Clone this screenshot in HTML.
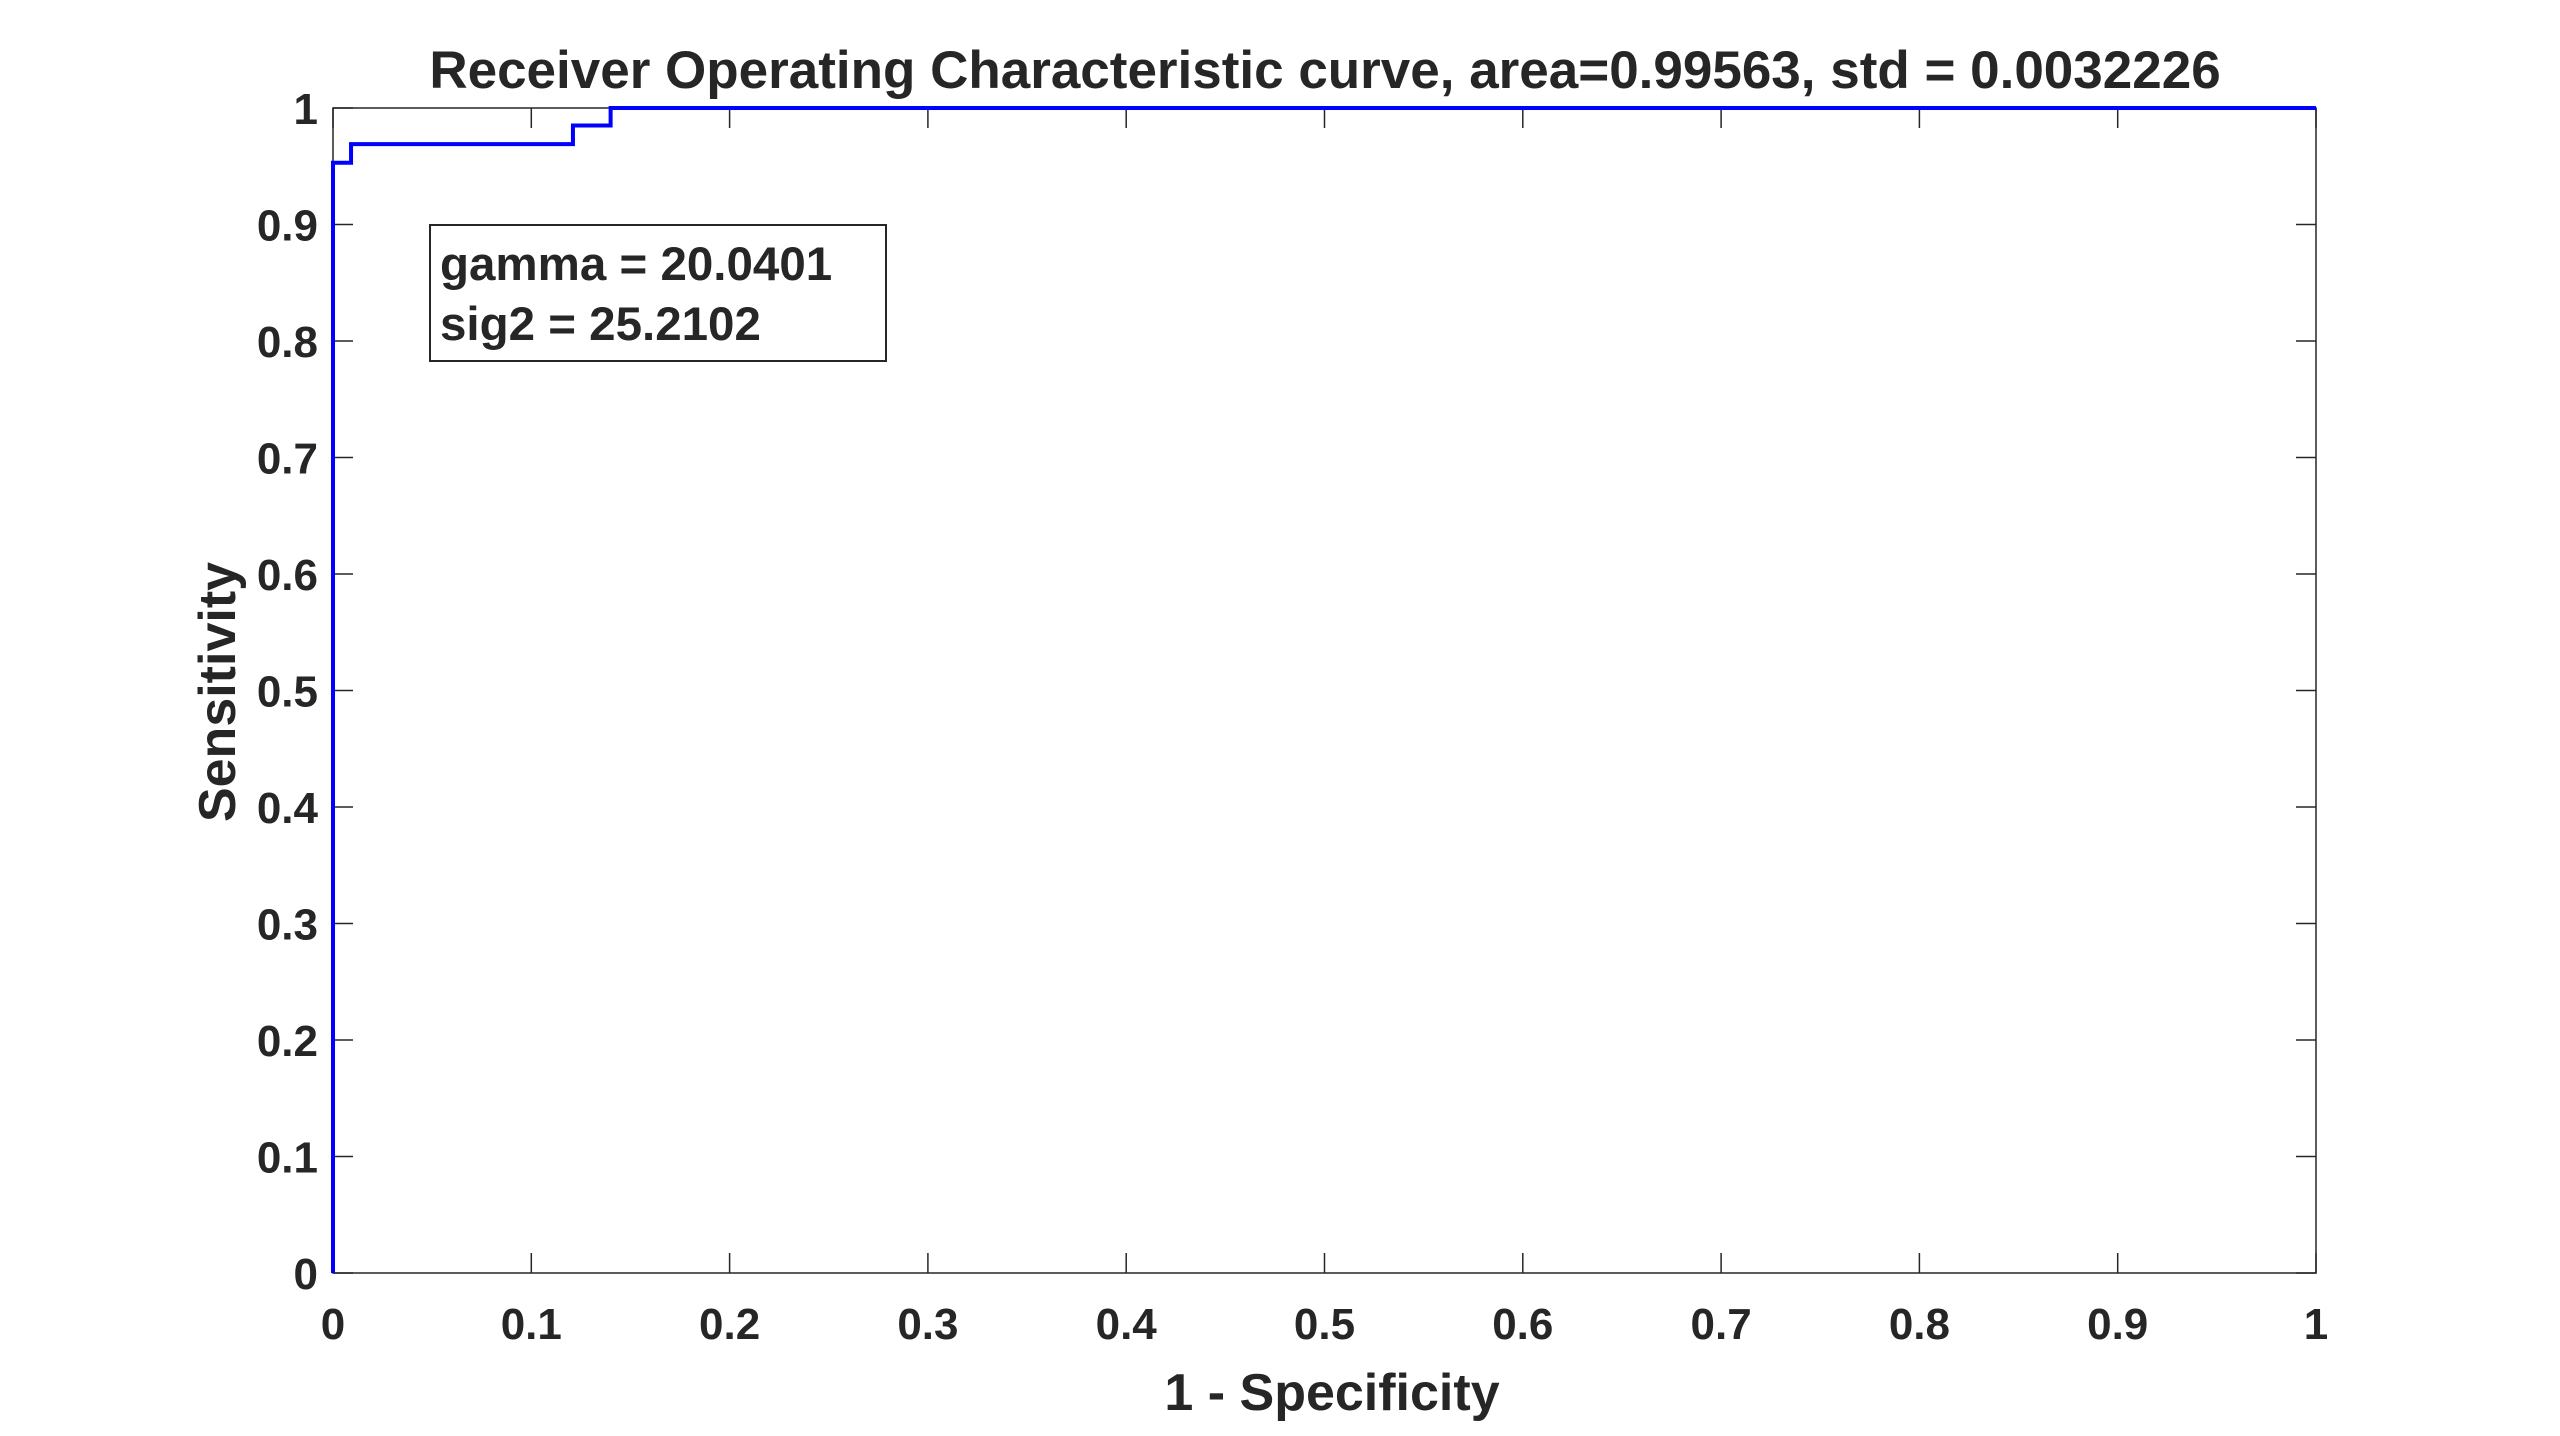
<!DOCTYPE html>
<html><head><meta charset="utf-8"><style>
body{margin:0;background:#fff;}
svg text{font-family:"Liberation Sans",Arial,sans-serif;font-weight:bold;fill:#262626;}
</style></head><body>
<svg id="chart" width="2560" height="1431" viewBox="0 0 2560 1431" xmlns="http://www.w3.org/2000/svg">
<rect width="2560" height="1431" fill="#fff"/>
<g id="axes"></g>
<path id="curve" fill="none" stroke="#0000ff" stroke-width="4"/>
<rect x="430" y="225" width="456" height="136" fill="#fff" stroke="#262626" stroke-width="2"/>
<text x="440" y="280" font-size="47.5" fill="#000">gamma = 20.0401</text>
<text x="440" y="340" font-size="47.5" fill="#000">sig2 = 25.2102</text>
<text x="1325" y="88" font-size="53" text-anchor="middle" fill="#000">Receiver Operating Characteristic curve, area=0.99563, std = 0.0032226</text>
<text x="1332" y="1410" font-size="52" text-anchor="middle">1 - Specificity</text>
<text transform="translate(235,692) rotate(-90)" font-size="52" text-anchor="middle">Sensitivity</text>
</svg>
<script>
const fpr = [0, 0, 0.0091, 0.0091, 0.121, 0.121, 0.140, 0.140, 1];
const tpr = [0, 0.953, 0.953, 0.969, 0.969, 0.985, 0.985, 1, 1];
const xTicks = ["0","0.1","0.2","0.3","0.4","0.5","0.6","0.7","0.8","0.9","1"];
const yTicks = ["0","0.1","0.2","0.3","0.4","0.5","0.6","0.7","0.8","0.9","1"];
const L=333,R=2316,T=108,B=1273;
const sx=v=>L+(R-L)*v, sy=v=>B-(B-T)*v;
const NS="http://www.w3.org/2000/svg";
const ax=document.getElementById('axes');
function mk(tag,attrs){const e=document.createElementNS(NS,tag);for(const k in attrs)e.setAttribute(k,attrs[k]);return e;}
const frame=mk('rect',{x:L,y:T,width:R-L,height:B-T,fill:'none',stroke:'#262626','stroke-width':1.5});


ax.appendChild(frame);
xTicks.forEach((t,i)=>{const v=i/10,x=sx(v);
 ax.appendChild(mk('line',{x1:x,y1:B,x2:x,y2:B-20,stroke:'#262626','stroke-width':1.5}));
 ax.appendChild(mk('line',{x1:x,y1:T,x2:x,y2:T+20,stroke:'#262626','stroke-width':1.5}));
 const tx=mk('text',{x:x,y:1339,'font-size':44,'text-anchor':'middle'});tx.textContent=t;
 
 
 ax.appendChild(tx);});
yTicks.forEach((t,i)=>{const v=i/10,y=sy(v);
 ax.appendChild(mk('line',{x1:L,y1:y,x2:L+20,y2:y,stroke:'#262626','stroke-width':1.5}));
 ax.appendChild(mk('line',{x1:R,y1:y,x2:R-20,y2:y,stroke:'#262626','stroke-width':1.5}));
 const tx=mk('text',{x:318,y:y+16,'font-size':44,'text-anchor':'end'});tx.textContent=t;
 
 
 ax.appendChild(tx);});
document.getElementById('curve').setAttribute('d',fpr.map((v,i)=>(i?'L':'M')+sx(v)+','+sy(tpr[i])).join(' '));
</script>
</body></html>
